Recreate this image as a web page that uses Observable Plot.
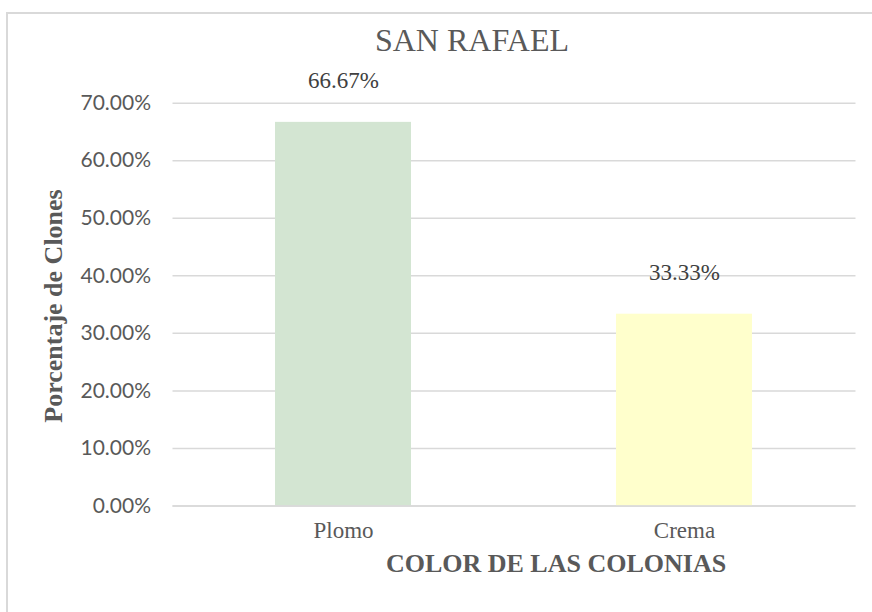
<!DOCTYPE html>
<html><head><meta charset="utf-8">
<script src="https://cdn.jsdelivr.net/npm/d3@7"></script>
<script src="https://cdn.jsdelivr.net/npm/@observablehq/plot@0.6"></script>
<style>
body{margin:0;background:#fff;overflow:hidden}
#wrap{position:relative;width:872px;height:612px;overflow:hidden;background:#fff}
#border{position:absolute;left:6px;top:12px;width:900px;height:700px;border:2px solid #d9d9d9;box-sizing:border-box}
#chart{position:absolute;left:0;top:0}
.t{position:absolute;font-family:"Liberation Serif","Times New Roman",serif;color:#595959;white-space:nowrap;line-height:1}
</style></head><body>
<div id="wrap">
<div id="border"></div>
<div id="chart"></div>
<div class="t" style="left:472px;top:24px;transform:translateX(-50%);font-size:32px">SAN RAFAEL</div>
<div class="t" style="left:54px;top:306px;transform:translate(-50%,-50%) rotate(-90deg);font-size:26px;font-weight:bold">Porcentaje de Clones</div>
<div class="t" style="left:556px;top:551px;transform:translateX(-50%);font-size:26px;font-weight:bold">COLOR DE LAS COLONIAS</div>
</div>
<script>
const categories = ["Plomo", "Crema"];
const values = [0.6667, 0.3333];
const barColors = ["#d3e5d2", "#ffffcc"];
const yTicks = [0, 0.1, 0.2, 0.3, 0.4, 0.5, 0.6, 0.7];

const data = categories.map((c, i) => ({cat: c, value: values[i], color: barColors[i]}));
const pct = d3.format(".2%");
const serif = "Liberation Serif, Times New Roman, serif";

const chart = Plot.plot({
  width: 872,
  height: 612,
  marginLeft: 172.5,
  marginRight: 16.5,
  marginTop: 102.7,
  marginBottom: 106.5,
  style: {background: "transparent", overflow: "visible"},
  x: {type: "band", domain: categories, paddingInner: 0.6, paddingOuter: 0.3, axis: null},
  y: {domain: [0, 0.7], axis: null},
  color: {type: "identity"},
  marks: [
    Plot.gridY(yTicks, {stroke: "#d9d9d9", strokeOpacity: 1, strokeWidth: 1.5}),
    Plot.barY(data, {x: "cat", y: "value", fill: "color"}),
    Plot.ruleY([0], {stroke: "#d9d9d9", strokeWidth: 1.5}),
    Plot.axisY(yTicks, {tickSize: 0, tickPadding: 22, tickFormat: pct, fontSize: 21, fontFamily: "Lato, Liberation Sans, sans-serif", color: "#595959", label: null}),
    Plot.axisX(categories, {tickSize: 0, tickPadding: 16, fontSize: 23, fontFamily: serif, color: "#595959", label: null}),
    Plot.text(data, {x: "cat", y: "value", text: d => pct(d.value), dy: -42, fontSize: 23, fontFamily: serif, fill: "#404040"})
  ]
});
document.getElementById("chart").appendChild(chart);
</script>
</body></html>
